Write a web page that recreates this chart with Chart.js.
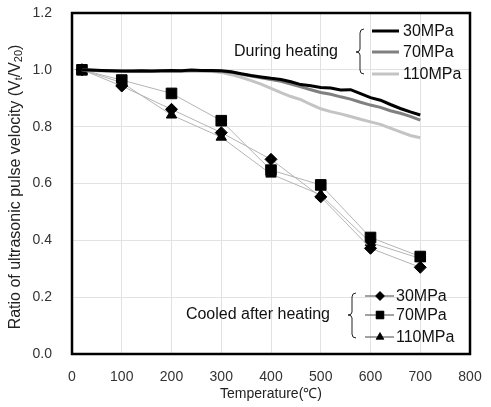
<!DOCTYPE html>
<html>
<head>
<meta charset="utf-8">
<script src="https://cdn.jsdelivr.net/npm/chart.js@4.4.1/dist/chart.umd.min.js"></script>
<style>
  html, body { margin: 0; padding: 0; background: #fff; }
  #wrap { width: 491px; height: 407px; }
</style>
</head>
<body>
<div id="wrap"><canvas id="c" width="491" height="407"></canvas></div>
<script>
// during heating (continuous measurement)
const heatTemps = [20, 40, 60, 80, 100, 120, 140, 160, 180, 200, 220, 240, 260, 280, 300, 320, 340, 360, 380, 400,
  420, 440, 460, 480, 500, 520, 540, 560, 580, 600, 620, 640, 660, 680, 700];
const heat30 = [1.000, 0.999, 0.998, 0.997, 0.996, 0.996, 0.997, 0.996, 0.997, 0.998, 0.997, 0.999, 0.998, 0.998, 0.997,
  0.993, 0.986, 0.980, 0.975, 0.970, 0.966, 0.958, 0.948, 0.944, 0.938, 0.936, 0.929, 0.930, 0.916, 0.902,
  0.893, 0.878, 0.864, 0.852, 0.841];
const heat70 = [1.000, 0.998, 0.997, 0.996, 0.995, 0.995, 0.995, 0.995, 0.996, 0.996, 0.996, 0.997, 0.997, 0.996, 0.995,
  0.991, 0.985, 0.978, 0.972, 0.966, 0.960, 0.950, 0.940, 0.930, 0.920, 0.914, 0.905, 0.897, 0.886, 0.876,
  0.868, 0.856, 0.847, 0.836, 0.823];
const heat110 = [1.000, 0.998, 0.997, 0.996, 0.995, 0.995, 0.995, 0.995, 0.996, 0.996, 0.996, 0.997, 0.996, 0.995, 0.991,
  0.983, 0.974, 0.962, 0.950, 0.935, 0.920, 0.906, 0.895, 0.878, 0.863, 0.853, 0.845, 0.836, 0.826, 0.817,
  0.808, 0.795, 0.782, 0.769, 0.761];

// cooled after heating (residual)
const coolTemps = [20, 100, 200, 300, 400, 500, 600, 700];
const cool30 = [1.000, 0.943, 0.861, 0.779, 0.685, 0.553, 0.372, 0.305];
const cool70 = [1.000, 0.964, 0.917, 0.821, 0.647, 0.595, 0.410, 0.343];
const cool110 = [1.000, 0.955, 0.841, 0.763, 0.633, 0.560, 0.392, 0.336];

const xTicks = [0, 100, 200, 300, 400, 500, 600, 700, 800];
const yTicks = [0, 0.2, 0.4, 0.6, 0.8, 1.0, 1.2];

const pts = (xs, ys) => xs.map((x, i) => ({ x, y: ys[i] }));

const heatLine = (label, data, color) => ({
  label, data: pts(heatTemps, data), borderColor: color, borderWidth: 3,
  pointRadius: 0, fill: false, tension: 0
});
const coolLine = (label, data, style, r) => ({
  label, data: pts(coolTemps, data), borderColor: '#b4b4b4', borderWidth: 1,
  pointStyle: style, pointRadius: r, pointBackgroundColor: '#000', pointBorderColor: '#000',
  pointBorderWidth: 1, fill: false, tension: 0
});

const FONT = '"Liberation Sans", Arial, sans-serif';

const frame = {
  id: 'frame',
  afterDatasetsDraw(chart) {
    const { ctx, chartArea: a } = chart;
    ctx.save();
    ctx.strokeStyle = '#000';
    ctx.lineWidth = 2.5;
    ctx.strokeRect(a.left, a.top, a.right - a.left, a.bottom - a.top);
    ctx.restore();
  }
};

function brace(ctx, x, top, mid, bot) {
  ctx.beginPath();
  ctx.moveTo(x + 4, top);
  ctx.quadraticCurveTo(x, top, x, top + 4);
  ctx.lineTo(x, mid - 3);
  ctx.quadraticCurveTo(x, mid, x - 4, mid);
  ctx.quadraticCurveTo(x, mid, x, mid + 3);
  ctx.lineTo(x, bot - 4);
  ctx.quadraticCurveTo(x, bot, x + 4, bot);
  ctx.stroke();
}

const notes = {
  id: 'notes',
  afterDraw(chart) {
    const ctx = chart.ctx;
    ctx.save();
    ctx.font = '16px ' + FONT;
    ctx.fillStyle = '#111';
    ctx.textBaseline = 'middle';

    // during heating legend
    ctx.textAlign = 'right';
    ctx.fillText('During heating', 338, 52);
    ctx.strokeStyle = '#222';
    ctx.lineWidth = 1;
    brace(ctx, 360, 29, 52, 74);
    const hl = [['30MPa', '#000', 31], ['70MPa', '#808080', 52], ['110MPa', '#c4c4c4', 74]];
    ctx.textAlign = 'left';
    hl.forEach(([t, c, y]) => {
      ctx.strokeStyle = c; ctx.lineWidth = 3;
      ctx.beginPath(); ctx.moveTo(372, y); ctx.lineTo(399, y); ctx.stroke();
      ctx.fillText(t, 403, y + 1);
    });

    // cooled after heating legend
    ctx.textAlign = 'right';
    ctx.fillText('Cooled after heating', 330, 315);
    ctx.strokeStyle = '#222';
    ctx.lineWidth = 1;
    brace(ctx, 352, 293, 315, 338);
    const cl = [['30MPa', 'rectRot', 296], ['70MPa', 'rect', 315], ['110MPa', 'triangle', 337]];
    ctx.textAlign = 'left';
    cl.forEach(([t, s, y]) => {
      ctx.strokeStyle = '#444'; ctx.lineWidth = 1;
      ctx.beginPath(); ctx.moveTo(365, y); ctx.lineTo(394, y); ctx.stroke();
      Chart.helpers.drawPoint(ctx, { pointStyle: s, radius: s === 'rect' ? 5.5 : 4.5, borderWidth: 1 }, 380, y);
      ctx.fillStyle = '#000';
      ctx.fill();
      ctx.fillStyle = '#111';
      ctx.fillText(t, 396, y + 1);
    });

    // y axis title with subscripts
    const cx = 16, cy = 187;
    ctx.translate(cx, cy);
    ctx.rotate(-Math.PI / 2);
    const big = '16px ' + FONT, small = '11px ' + FONT;
    const parts = [['Ratio of ultrasonic pulse velocity (V', big, 0], ['t', small, 3], ['/V', big, 0], ['20', small, 3], [')', big, 0]];
    let w = 0;
    parts.forEach(p => { ctx.font = p[1]; w += ctx.measureText(p[0]).width; });
    let x = -w / 2;
    ctx.fillStyle = '#222';
    ctx.textAlign = 'left';
    parts.forEach(p => {
      ctx.font = p[1];
      ctx.fillText(p[0], x, p[2]);
      x += ctx.measureText(p[0]).width;
    });
    ctx.restore();
  }
};

new Chart(document.getElementById('c'), {
  type: 'line',
  data: {
    datasets: [
      heatLine('30MPa', heat30, '#000000'),
      heatLine('70MPa', heat70, '#808080'),
      heatLine('110MPa', heat110, '#c4c4c4'),
      coolLine('30MPa cooled', cool30, 'rectRot', 6),
      coolLine('70MPa cooled', cool70, 'rect', 7.5),
      coolLine('110MPa cooled', cool110, 'triangle', 6)
    ]
  },
  options: {
    responsive: false,
    animation: false,
    layout: { padding: { left: 0, right: 21, top: 13, bottom: 0 } },
    plugins: { legend: { display: false }, tooltip: { enabled: false } },
    scales: {
      x: {
        type: 'linear', min: 0, max: 800,
        afterBuildTicks: (s) => { s.ticks = xTicks.map(v => ({ value: v })); },
        afterFit: (s) => { s.height = 53; s.paddingLeft = 0; s.paddingRight = 0; },
        grid: { color: '#e2e2e2', drawTicks: false },
        border: { display: false },
        ticks: { padding: 15, color: '#333', font: { family: FONT, size: 14 } },
        title: { display: true, text: 'Temperature(℃)', color: '#222', padding: { top: 0, bottom: 4 }, font: { family: FONT, size: 14 } }
      },
      y: {
        min: 0, max: 1.2,
        afterBuildTicks: (s) => { s.ticks = yTicks.map(v => ({ value: v })); },
        afterFit: (s) => { s.width = 72; s.paddingTop = 0; s.paddingBottom = 0; },
        grid: { color: '#e2e2e2', drawTicks: false },
        border: { display: false },
        ticks: { padding: 20, color: '#333', font: { family: FONT, size: 14 }, callback: (v) => v.toFixed(1) }
      }
    }
  },
  plugins: [frame, notes]
});
</script>
</body>
</html>
